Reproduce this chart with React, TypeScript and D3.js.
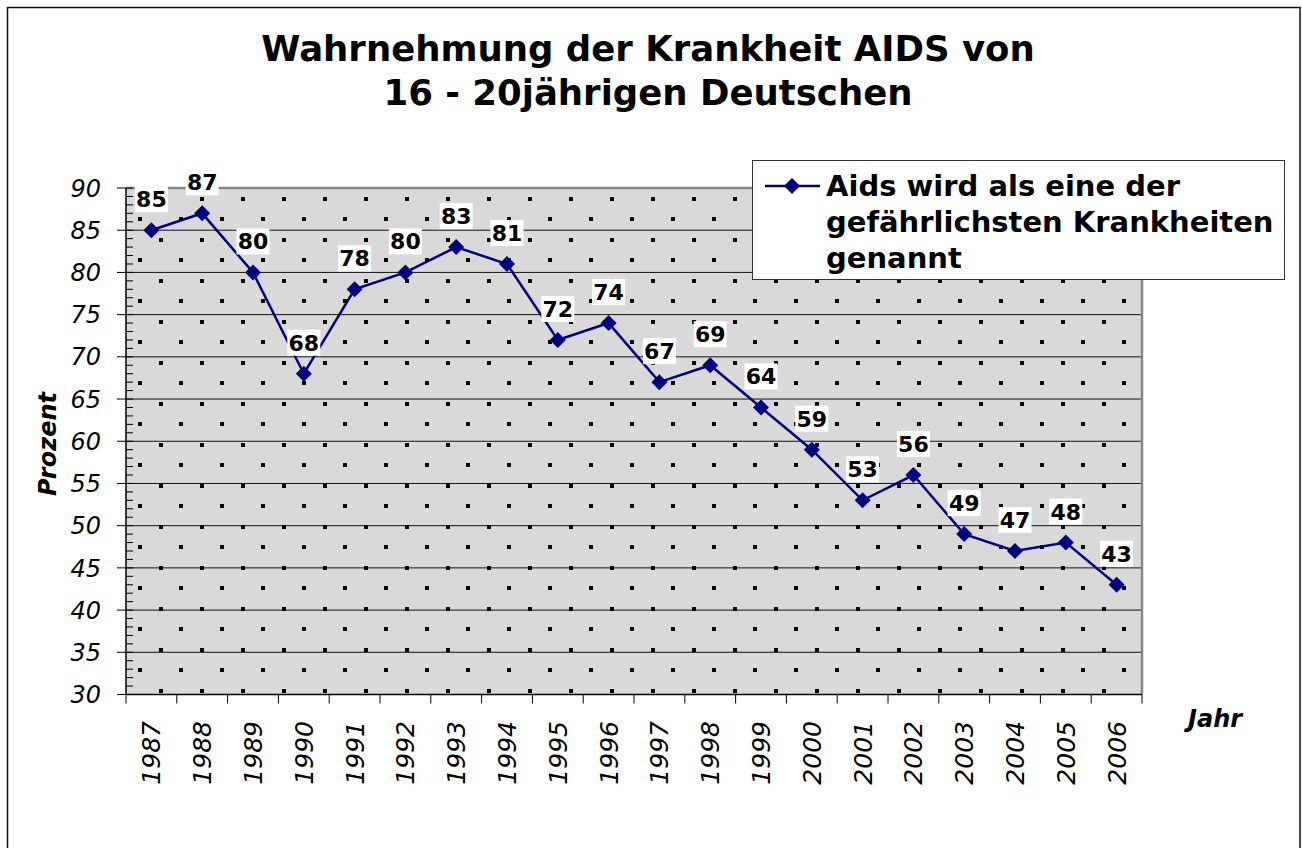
import * as d3 from "d3";

const years = ["1987", "1988", "1989", "1990", "1991", "1992", "1993", "1994", "1995", "1996",
  "1997", "1998", "1999", "2000", "2001", "2002", "2003", "2004", "2005", "2006"];
const values = [85, 87, 80, 68, 78, 80, 83, 81, 72, 74, 67, 69, 64, 59, 53, 56, 49, 47, 48, 43];
const yTicks = [30, 35, 40, 45, 50, 55, 60, 65, 70, 75, 80, 85, 90];
const titleLines = ["Wahrnehmung der Krankheit AIDS von", "16 - 20jährigen Deutschen"];
const legendLines = ["Aids wird als eine der", "gefährlichsten Krankheiten", "genannt"];

const W = 1302;
const H = 848;
const plot = { left: 126, right: 1142, top: 188, bottom: 694.5 };
const navy = "#000080";
const font = "'DejaVu Sans', Verdana, sans-serif";

function diamond(cx: number, cy: number, r: number) {
  return `M${cx},${cy - r}L${cx + r},${cy}L${cx},${cy + r}L${cx - r},${cy}Z`;
}

export default function App() {
  const x = d3.scaleBand().domain(years).range([plot.left, plot.right]);
  const y = d3.scaleLinear().domain([30, 90]).range([plot.bottom, plot.top]);
  const cx = (yr: string) => (x(yr) ?? 0) + x.bandwidth() / 2;
  const minorTicks = d3.range(30, 91, 1);

  const line = d3
    .line<number>()
    .x((_, i) => cx(years[i]))
    .y((v) => y(v));

  return (
    <svg width={W} height={H} style={{ position: "absolute", left: 0, top: 0 }} fontFamily={font}>
      <defs>
        <pattern id="dots" patternUnits="userSpaceOnUse" width={41} height={41}>
          <rect width={41} height={41} fill="#d9d9d9" />
          <rect x={15} y={12} width={4} height={4} fill="#000" />
          <rect x={36} y={33} width={4} height={4} fill="#000" />
        </pattern>
      </defs>
      <rect x={0} y={0} width={W} height={H} fill="#fff" />
      <rect x={7.5} y={7.5} width={1292.5} height={H} fill="none" stroke="#111" strokeWidth={1.5} />

      {titleLines.map((t, i) => (
        <text key={t} x={648} y={61 + i * 44} textAnchor="middle" fontWeight="bold" fontSize={35.5}>
          {t}
        </text>
      ))}

      {/* plot area */}
      <rect x={plot.left} y={plot.top} width={plot.right - plot.left} height={plot.bottom - plot.top} fill="url(#dots)" />
      {yTicks.slice(1, -1).map((t) => (
        <line key={t} x1={plot.left} x2={plot.right} y1={y(t)} y2={y(t)} stroke="#111" strokeWidth={1} />
      ))}
      <path
        d={`M${plot.left},${plot.top}H${plot.right}V${plot.bottom}`}
        fill="none"
        stroke="#888"
        strokeWidth={2.5}
      />

      {/* y axis */}
      <line x1={plot.left} x2={plot.left} y1={plot.top} y2={plot.bottom} stroke="#000" strokeWidth={1.5} />
      {minorTicks.map((t) => (
        <line key={t} x1={plot.left} x2={plot.left + 7} y1={y(t)} y2={y(t)} stroke="#000" strokeWidth={1} />
      ))}
      {yTicks.map((t) => (
        <g key={t}>
          <line x1={plot.left - 9} x2={plot.left} y1={y(t)} y2={y(t)} stroke="#000" strokeWidth={1} />
          <text x={101} y={y(t)} dy="0.36em" textAnchor="end" fontStyle="italic" fontSize={24}>
            {t}
          </text>
        </g>
      ))}
      <text
        transform={`translate(56,444) rotate(-90)`}
        textAnchor="middle"
        fontWeight="bold"
        fontStyle="italic"
        fontSize={24}
      >
        Prozent
      </text>

      {/* x axis */}
      <line x1={plot.left} x2={plot.right} y1={plot.bottom} y2={plot.bottom} stroke="#000" strokeWidth={1.5} />
      {[...years.map((yr) => x(yr) ?? 0), plot.right].map((px, i) => (
        <line key={i} x1={px} x2={px} y1={plot.bottom} y2={plot.bottom + 9} stroke="#000" strokeWidth={1} />
      ))}
      {years.map((yr) => (
        <text
          key={yr}
          transform={`translate(${cx(yr)},721) rotate(-90)`}
          dy="0.36em"
          textAnchor="end"
          fontStyle="italic"
          fontSize={25}
        >
          {yr}
        </text>
      ))}
      <text x={1188} y={727} fontWeight="bold" fontStyle="italic" fontSize={24}>
        Jahr
      </text>

      {/* series */}
      <path d={line(values) ?? ""} fill="none" stroke={navy} strokeWidth={2.5} />
      {values.map((v, i) => (
        <path key={i} d={diamond(cx(years[i]), y(v), 8)} fill={navy} />
      ))}
      {values.map((v, i) => {
        const px = cx(years[i]);
        const py = y(v) - 31;
        return (
          <g key={i}>
            <rect x={px - 16.5} y={py - 13} width={33} height={26} fill="#fff" />
            <text x={px} y={py + 8} textAnchor="middle" fontWeight="bold" fontSize={22}>
              {v}
            </text>
          </g>
        );
      })}

      {/* legend */}
      <rect x={752.5} y={160.5} width={532} height={119} fill="#fff" stroke="#333" strokeWidth={1} />
      <line x1={765} x2={820} y1={186} y2={186} stroke={navy} strokeWidth={2.5} />
      <path d={diamond(792, 186, 8)} fill={navy} />
      {legendLines.map((t, i) => (
        <text key={t} x={826} y={196 + i * 36} fontWeight="bold" fontSize={29}>
          {t}
        </text>
      ))}
    </svg>
  );
}
